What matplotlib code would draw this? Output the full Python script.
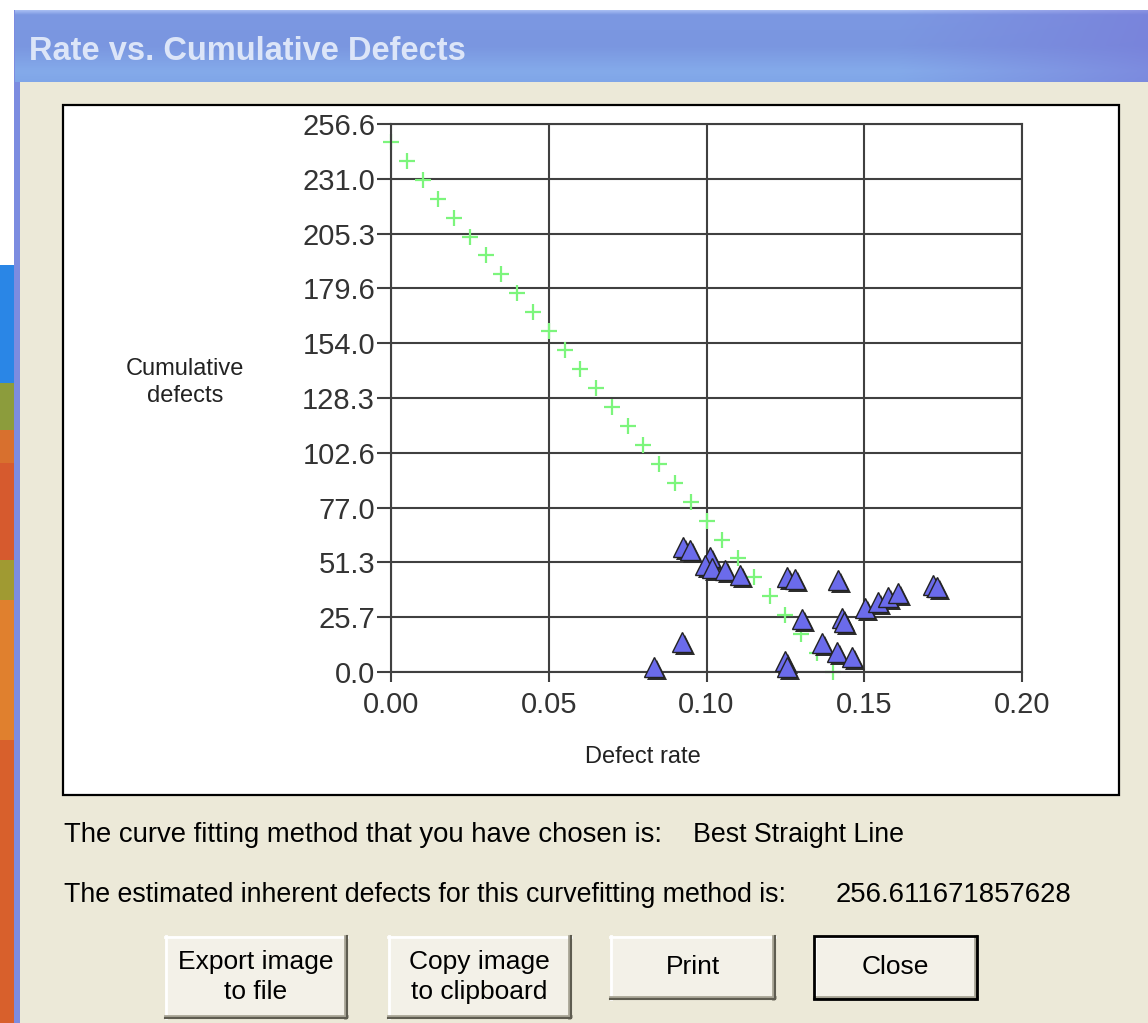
import matplotlib
matplotlib.use('Agg')
import matplotlib.pyplot as plt
import numpy as np
from matplotlib.patches import Rectangle
from matplotlib.transforms import offset_copy
from matplotlib.colors import to_rgb

# ---- data ----
# observed points (defect rate, cumulative defects)
obs_rate = [0.0926, 0.0948, 0.1011, 0.0995, 0.1017, 0.1059, 0.1106, 0.1255, 0.1281,
            0.1417, 0.1502, 0.1544, 0.1575, 0.1607, 0.1718, 0.1731, 0.1303, 0.1429,
            0.1436, 0.1366, 0.1414, 0.1461, 0.1249, 0.1255, 0.0922, 0.0834]
obs_cum = [58.5, 57.1, 53.9, 50.1, 48.7, 47.8, 45.4, 44.5, 43.5,
           43.1, 30.0, 32.8, 35.1, 37.0, 40.7, 39.8, 24.8, 25.3,
           23.4, 13.6, 9.4, 7.0, 5.2, 2.3, 14.0, 2.3]

# fitted straight line points (green crosses)
fit_rate = [0.000, 0.005, 0.010, 0.015, 0.020, 0.025, 0.030, 0.035, 0.040, 0.045,
            0.050, 0.055, 0.060, 0.065, 0.070, 0.075, 0.080, 0.085, 0.090, 0.095,
            0.100, 0.105, 0.110, 0.115, 0.120, 0.125, 0.130, 0.135, 0.140]
fit_cum = [248.3, 239.4, 230.6, 221.7, 212.8, 203.9, 195.1, 186.2, 177.3, 168.5,
           159.6, 150.7, 141.9, 133.0, 124.1, 115.2, 106.4, 97.5, 88.6, 79.8,
           70.9, 62.0, 53.2, 44.3, 35.4, 26.5, 17.7, 8.8, 0.0]

inherent_defects = 256.611671857628
xtick_values = [0.00, 0.05, 0.10, 0.15, 0.20]
xtick_labels = ['0.00', '0.05', '0.10', '0.15', '0.20']
ytick_values = [0.0, 25.66, 51.32, 76.98, 102.64, 128.31, 153.97, 179.63, 205.29, 230.95, 256.61]
ytick_labels = ['0.0', '25.7', '51.3', '77.0', '102.6', '128.3', '154.0', '179.6', '205.3', '231.0', '256.6']

fit_method = 'Best Straight Line'

plt.rcParams['font.family'] = ['Liberation Sans', 'DejaVu Sans']

W, H = 1148, 1023
BEIGE = '#ECE9D8'
fig = plt.figure(figsize=(W / 100, H / 100), dpi=100, facecolor=BEIGE)

# ---- window chrome drawn in pixel coordinates ----
bg = fig.add_axes([0, 0, 1, 1])
bg.set_xlim(0, W)
bg.set_ylim(H, 0)
bg.axis('off')

bg.add_patch(Rectangle((0, 0), W, 10, color='white', lw=0))
bg.add_patch(Rectangle((0, 0), 14, 265, color='white', lw=0))
desk = [(265, 383, '#2A86E6'), (383, 430, '#8C9C3C'), (430, 463, '#D8702E'),
        (463, 560, '#D65A2E'), (560, 600, '#A09A32'), (600, 740, '#E0802E'),
        (740, 1023, '#D8602C')]
for y0, y1, c in desk:
    bg.add_patch(Rectangle((0, y0), 14, y1 - y0, color=c, lw=0))
bg.add_patch(Rectangle((14, 10), 6, H - 10, color='#7C8CE0', lw=0))

# title bar gradient
rows = np.linspace(0, 1, 72)
row_stops = [0, 0.06, 0.5, 0.85, 1.0]
row_cols = [to_rgb(c) for c in ['#A6BCF2', '#7C98E2', '#7A96E0', '#84AAEA', '#80A6E8']]
col_rgb = np.stack([np.interp(rows, row_stops, [c[i] for c in row_cols]) for i in range(3)], axis=1)
xs = np.linspace(15, W, 300)
wgt = np.clip((xs - 900) / 248, 0, 1) * 0.6
purple = np.array(to_rgb('#7878D8'))
img = col_rgb[:, None, :] * (1 - wgt[None, :, None]) + purple[None, None, :] * wgt[None, :, None]
bg.imshow(img, extent=[15, W, 82, 10], aspect='auto', interpolation='bilinear', zorder=1)
bg.text(29, 51, 'Rate vs. Cumulative Defects', fontsize=23.5, fontweight='bold',
        color='#DCE5F8', va='center', ha='left', zorder=2)

# white chart panel
bg.add_patch(Rectangle((63, 105), 1119 - 63, 795 - 105, facecolor='white',
                       edgecolor='black', lw=1.6, zorder=1))
bg.text(185, 369, 'Cumulative', fontsize=17, color='#222222', ha='center', va='center', zorder=2)
bg.text(185, 396, 'defects', fontsize=17, color='#222222', ha='center', va='center', zorder=2)
bg.text(643, 757, 'Defect rate', fontsize=17, color='#222222', ha='center', va='center', zorder=2)

# info lines
bg.text(64, 842, 'The curve fitting method that you have chosen is:', fontsize=19.8,
        va='baseline', ha='left', color='black')
bg.text(693, 842, fit_method, fontsize=19.3, va='baseline', ha='left', color='black')
bg.text(64, 902, 'The estimated inherent defects for this curvefitting method is:', fontsize=19.3,
        va='baseline', ha='left', color='black')
bg.text(836, 902, repr(inherent_defects), fontsize=19.8, va='baseline', ha='left', color='black')


def button(x0, y0, x1, y1, label, default=False):
    bg.add_patch(Rectangle((x0, y0), x1 - x0, y1 - y0, facecolor='#F3F1E8', lw=0, zorder=1))
    bg.plot([x0, x1], [y0 + 1, y0 + 1], color='white', lw=2, zorder=2)
    bg.plot([x0 + 1, x0 + 1], [y0, y1], color='white', lw=2, zorder=2)
    bg.plot([x0, x1], [y1 - 2, y1 - 2], color='#A8A596', lw=2, zorder=2)
    bg.plot([x1 - 2, x1 - 2], [y0, y1], color='#A8A596', lw=2, zorder=2)
    bg.plot([x0, x1], [y1, y1], color='#5E5C50', lw=1.5, zorder=2)
    bg.plot([x1, x1], [y0, y1], color='#5E5C50', lw=1.5, zorder=2)
    if default:
        bg.add_patch(Rectangle((x0, y0), x1 - x0, y1 - y0, facecolor='none',
                               edgecolor='black', lw=2, zorder=3))
    bg.text((x0 + x1) / 2, (y0 + y1) / 2, label, fontsize=19,
            ha='center', va='center', linespacing=1.3, color='black', zorder=4)


button(165, 936, 347, 1018, 'Export image\nto file')
button(388, 936, 571, 1018, 'Copy image\nto clipboard')
button(610, 936, 775, 999, 'Print')
button(814, 936, 977, 999, 'Close', default=True)

# ---- chart ----
ax = fig.add_axes([391 / W, (H - 672) / H, (1022 - 391) / W, (672 - 124) / H])
ax.set_facecolor('white')
ax.set_xlim(0, 0.20)
ax.set_ylim(0, inherent_defects)
ax.set_axisbelow(True)
ax.grid(True, color='#404040', lw=1.5)
for sp in ax.spines.values():
    sp.set_color('#404040')
    sp.set_linewidth(1.5)

ax.set_xticks(xtick_values)
ax.set_xticklabels(xtick_labels)
ax.set_yticks(ytick_values)
ax.set_yticklabels(ytick_labels)
ax.tick_params(axis='y', length=10, width=1.5, color='#404040', pad=1.5,
               labelsize=21, labelcolor='#333333')
ax.tick_params(axis='x', length=7, width=1.5, color='#404040', pad=7,
               labelsize=21, labelcolor='#333333')

ax.plot(fit_rate, fit_cum, linestyle='none', marker='+', markersize=12,
        markeredgewidth=1.6, color='#7CF57C', clip_on=False, zorder=2)

shadow = offset_copy(ax.transData, fig=fig, x=3, y=-3, units='dots')
ax.plot(obs_rate, obs_cum, linestyle='none', marker='^', markersize=14,
        color='#2E2E2E', markeredgewidth=0, transform=shadow, clip_on=False, zorder=3)
ax.plot(obs_rate, obs_cum, linestyle='none', marker='^', markersize=14,
        markerfacecolor='#6B6BEB', markeredgecolor='#222222', markeredgewidth=1,
        clip_on=False, zorder=4)

plt.savefig('out.png', dpi=100, facecolor=BEIGE)
